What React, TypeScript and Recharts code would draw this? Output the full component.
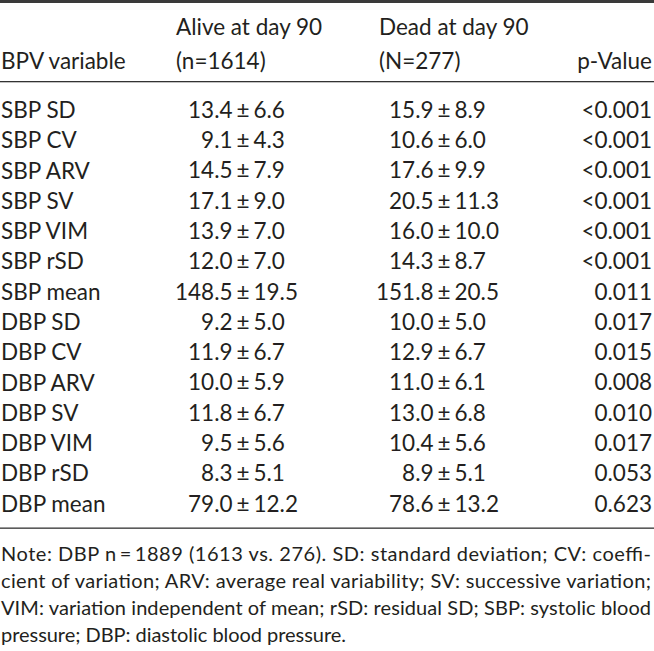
import React from 'react';
import { ComposedChart, Bar, XAxis, YAxis, LabelList } from 'recharts';

const variables = [
  'SBP SD', 'SBP CV', 'SBP ARV', 'SBP SV', 'SBP VIM', 'SBP rSD', 'SBP mean',
  'DBP SD', 'DBP CV', 'DBP ARV', 'DBP SV', 'DBP VIM', 'DBP rSD', 'DBP mean',
];
const aliveMean = [13.4, 9.1, 14.5, 17.1, 13.9, 12.0, 148.5, 9.2, 11.9, 10.0, 11.8, 9.5, 8.3, 79.0];
const aliveSD = [6.6, 4.3, 7.9, 9.0, 7.0, 7.0, 19.5, 5.0, 6.7, 5.9, 6.7, 5.6, 5.1, 12.2];
const deadMean = [15.9, 10.6, 17.6, 20.5, 16.0, 14.3, 151.8, 10.0, 12.9, 11.0, 13.0, 10.4, 8.9, 78.6];
const deadSD = [8.9, 6.0, 9.9, 11.3, 10.0, 8.7, 20.5, 5.0, 6.7, 6.1, 6.8, 5.6, 5.1, 13.2];
const pValues = [
  '<0.001', '<0.001', '<0.001', '<0.001', '<0.001', '<0.001', '0.011',
  '0.017', '0.015', '0.008', '0.010', '0.017', '0.053', '0.623',
];
const noteLines = [
  'Note: DBP n\u2009=\u20091889 (1613 vs. 276). SD: standard deviation; CV: coeffi-',
  'cient of variation; ARV: average real variability; SV: successive variation;',
  'VIM: variation independent of mean; rSD: residual SD; SBP: systolic blood',
  'pressure; DBP: diastolic blood pressure.',
];

const data = variables.map((v, i) => ({
  variable: v,
  aliveMean: aliveMean[i],
  aliveSD: aliveSD[i],
  deadMean: deadMean[i],
  deadSD: deadSD[i],
  p: pValues[i],
}));

const W = 654;
const H = 651;
const FONT = 'Lato, "Open Sans", sans-serif';
const INK = '#231f20';
const FS = 22.5;
const ALIVE_PM = 243;
const DEAD_PM = 444;

const meanSd = (cx: number, cy: number, m: number, sd: number) => (
  <g fontFamily={FONT} fontSize={FS} fill={INK}>
    <text x={cx - 10.5} y={cy} dy="0.35em" textAnchor="end">{m.toFixed(1)}</text>
    <text x={cx} y={cy} dy="0.35em" textAnchor="middle">±</text>
    <text x={cx + 10.5} y={cy} dy="0.35em" textAnchor="start">{sd.toFixed(1)}</text>
  </g>
);

const RowLabel = (props: any) => {
  const { y, payload } = props;
  return (
    <text x={1} y={y} dy="0.35em" fontFamily={FONT} fontSize={FS} fill={INK} textAnchor="start">
      {payload.value}
    </text>
  );
};

const Overlay = () => (
  <svg
    width={W}
    height={H}
    style={{ position: 'absolute', left: 0, top: 0, pointerEvents: 'none' }}
    fontFamily={FONT}
    fontSize={FS}
    fill={INK}
  >
    <rect x={0} y={0} width={W} height={3} fill="#3a3a3a" />
    <text x={176} y={27.5} dy="0.35em">Alive at day 90</text>
    <text x={379} y={27.5} dy="0.35em">Dead at day 90</text>
    <text x={1} y={61} dy="0.35em">BPV variable</text>
    <text x={176} y={61} dy="0.35em">(n=1614)</text>
    <text x={379} y={61} dy="0.35em">(N=277)</text>
    <text x={W - 2} y={61} dy="0.35em" textAnchor="end">p-Value</text>
    <rect x={0} y={81} width={W} height={1.3} fill="#333" />
    <rect x={0} y={527.5} width={W} height={1.3} fill="#333" />
    {noteLines.map((l, i) => (
      <text
        key={i}
        x={1}
        y={561 + i * 27}
        fontSize={20}
        textLength={i < noteLines.length - 1 ? W - 4 : 345}
        lengthAdjust="spacing"
      >
        {l}
      </text>
    ))}
  </svg>
);

export default function App() {
  return (
    <div style={{ position: 'relative', width: W, height: H, background: '#fff' }}>
      <style>{'body{margin:0;}'}</style>
      <ComposedChart
        width={W}
        height={H}
        data={data}
        layout="vertical"
        margin={{ top: 95, right: 0, bottom: 132, left: 0 }}
      >
        <XAxis type="number" hide domain={[0, 200]} />
        <YAxis
          type="category"
          dataKey="variable"
          width={1}
          axisLine={false}
          tickLine={false}
          tick={<RowLabel />}
          interval={0}
        />
        <Bar dataKey="aliveMean" fill="none" isAnimationActive={false}>
          <LabelList
            dataKey="aliveMean"
            content={(p: any) => {
              const d = data[p.index];
              const cy = p.y + p.height / 2;
              return (
                <g>
                  {meanSd(ALIVE_PM, cy, d.aliveMean, d.aliveSD)}
                  {meanSd(DEAD_PM, cy, d.deadMean, d.deadSD)}
                  <text x={W - 2} y={cy} dy="0.35em" textAnchor="end" fontFamily={FONT} fontSize={FS} fill={INK}>
                    {d.p}
                  </text>
                </g>
              );
            }}
          />
        </Bar>
      </ComposedChart>
      <Overlay />
    </div>
  );
}
